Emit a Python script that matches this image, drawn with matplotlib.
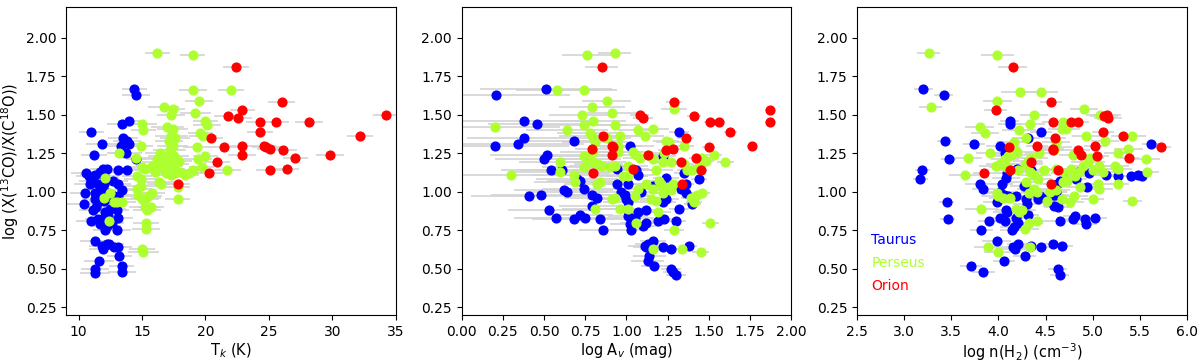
import numpy as np
import matplotlib
matplotlib.use("Agg")
from matplotlib import pyplot as plt

# (x, log ratio, x error), one list per region and panel
# panel 1 : T_k (K)
taurus_tk = [
    (14.4, 1.67, 1.0), (14.5, 1.63, 1.1), (11.0, 1.39, 1.0), (13.4, 1.44, 1.2), (14.0, 1.46, 0.9),
    (13.5, 1.35, 1.2), (13.3, 1.30, 1.0), (13.8, 1.33, 1.1), (14.0, 1.31, 0.8), (11.8, 1.31, 1.2),
    (13.7, 1.25, 1.3), (14.5, 1.21, 0.8), (11.2, 1.24, 1.0), (13.8, 1.14, 1.1), (13.1, 1.14, 1.2),
    (10.6, 1.12, 1.2), (10.8, 1.10, 1.0), (11.3, 1.11, 1.2), (11.9, 1.15, 1.0), (12.2, 1.15, 1.1),
    (11.7, 1.13, 1.2), (11.0, 1.07, 1.0), (10.9, 1.05, 1.3), (11.5, 1.05, 1.1), (12.0, 1.05, 1.0),
    (12.7, 1.07, 1.2), (13.1, 1.05, 1.0), (13.4, 1.01, 1.1), (10.5, 0.99, 1.2), (11.3, 0.99, 1.0),
    (11.7, 1.01, 1.1), (12.2, 0.99, 1.3), (12.6, 0.98, 1.0), (13.1, 0.97, 1.2), (10.4, 0.92, 1.3),
    (11.3, 0.95, 1.0), (11.5, 0.93, 1.1), (12.0, 0.94, 1.2), (12.9, 0.93, 1.0), (11.1, 0.88, 1.1),
    (12.5, 0.89, 1.2), (13.0, 0.88, 1.0), (11.0, 0.81, 1.2), (11.5, 0.82, 1.0), (11.8, 0.82, 1.1),
    (12.1, 0.87, 1.0), (12.3, 0.84, 1.2), (11.7, 0.79, 1.0), (12.2, 0.78, 1.1), (12.6, 0.80, 1.0),
    (13.1, 0.83, 1.2), (12.1, 0.75, 1.0), (13.0, 0.75, 1.1), (11.3, 0.68, 1.2), (11.8, 0.65, 1.0),
    (11.9, 0.63, 1.1), (12.2, 0.66, 1.0), (12.4, 0.66, 1.2), (12.8, 0.64, 1.0), (13.1, 0.64, 1.1),
    (13.2, 0.58, 1.0), (11.6, 0.55, 1.2), (11.3, 0.50, 1.1), (11.3, 0.47, 1.2), (13.4, 0.52, 1.0),
    (13.4, 0.48, 1.1), (12.2, 0.99, 1.0), (11.4, 0.90, 1.1), (12.4, 0.96, 1.0), (12.0, 1.10, 1.2),
]
perseus_tk = [
    (16.2, 1.90, 1.0), (19.0, 1.89, 1.0), (19.0, 1.66, 1.1), (22.0, 1.66, 1.0), (19.5, 1.59, 1.1),
    (16.7, 1.55, 1.2), (17.4, 1.54, 1.0), (17.3, 1.50, 1.1), (19.2, 1.51, 1.2), (20.0, 1.46, 1.0),
    (20.1, 1.43, 1.1), (15.0, 1.44, 1.2), (15.1, 1.40, 1.0), (17.0, 1.42, 1.3), (17.4, 1.41, 1.2),
    (19.6, 1.38, 1.0), (19.8, 1.36, 1.1), (17.3, 1.36, 1.3), (17.6, 1.35, 1.2), (17.1, 1.33, 1.1),
    (14.9, 1.30, 1.0), (17.4, 1.30, 1.2), (19.3, 1.29, 1.1), (17.2, 1.27, 1.3), (16.4, 1.25, 1.2),
    (16.6, 1.23, 1.1), (16.2, 1.21, 1.3), (16.8, 1.22, 1.2), (17.0, 1.20, 1.1), (17.5, 1.23, 1.2),
    (17.9, 1.20, 1.0), (19.4, 1.21, 1.1), (20.0, 1.23, 1.0), (14.5, 1.22, 1.1), (13.2, 1.25, 1.0),
    (15.0, 1.16, 1.2), (15.2, 1.15, 1.1), (15.8, 1.17, 1.3), (16.2, 1.19, 1.2), (16.5, 1.16, 1.1),
    (16.9, 1.17, 1.3), (17.2, 1.15, 1.2), (17.6, 1.18, 1.1), (16.0, 1.13, 1.2), (16.9, 1.12, 1.0),
    (17.3, 1.11, 1.2), (17.6, 1.12, 1.1), (18.0, 1.13, 1.0), (18.4, 1.11, 1.1), (18.7, 1.12, 1.0),
    (19.0, 1.14, 1.1), (19.7, 1.16, 1.0), (21.7, 1.14, 1.1), (14.6, 1.10, 1.2), (14.9, 1.08, 1.3),
    (16.3, 1.06, 1.2), (16.5, 1.05, 1.1), (17.8, 1.03, 1.0), (17.8, 0.95, 1.0), (12.1, 1.09, 1.1),
    (14.6, 1.02, 1.2), (14.9, 1.04, 1.3), (14.7, 0.98, 1.2), (15.0, 0.95, 1.3), (15.3, 0.96, 1.2),
    (15.5, 0.97, 1.1), (15.8, 0.99, 1.0), (15.2, 0.90, 1.2), (15.4, 0.88, 1.1), (15.7, 0.90, 1.0),
    (12.0, 0.96, 1.1), (12.5, 0.99, 1.0), (12.4, 0.81, 1.1), (13.0, 0.93, 1.0), (13.4, 0.93, 1.1),
    (15.3, 0.80, 1.0), (15.3, 0.76, 1.1), (15.0, 0.63, 1.0), (15.1, 0.61, 1.2), (12.8, 0.93, 1.0),
]
orion_tk = [
    (22.4, 1.81, 1.0), (21.8, 1.49, 1.1), (22.9, 1.53, 1.0), (22.6, 1.48, 1.1), (20.4, 1.35, 1.0),
    (21.5, 1.29, 1.2), (22.9, 1.30, 1.0), (22.9, 1.24, 1.1), (20.9, 1.19, 1.0), (20.3, 1.12, 1.1),
    (17.8, 1.05, 1.0), (24.3, 1.45, 1.1), (24.3, 1.39, 1.0), (26.0, 1.58, 1.1), (25.6, 1.45, 1.0),
    (28.2, 1.45, 1.1), (34.2, 1.50, 1.0), (32.2, 1.36, 1.0), (29.8, 1.24, 1.1), (24.6, 1.30, 1.0),
    (24.8, 1.29, 1.1), (25.1, 1.28, 1.0), (26.1, 1.27, 1.1), (27.1, 1.22, 1.0), (25.1, 1.14, 1.1),
    (26.4, 1.15, 1.0),
]

# panel 2 : log A_v (mag)
taurus_av = [
    (0.21, 1.63, 0.45), (0.51, 1.67, 0.40), (0.20, 1.30, 0.45), (0.34, 1.31, 0.40), (0.38, 1.35, 0.35),
    (0.38, 1.46, 0.40), (0.46, 1.44, 0.30), (0.68, 1.33, 0.30), (0.52, 1.24, 0.35), (0.50, 1.21, 0.30),
    (0.54, 1.14, 0.30), (0.61, 1.14, 0.25), (0.41, 0.97, 0.35), (0.48, 0.98, 0.30), (0.53, 0.88, 0.25),
    (0.57, 0.83, 0.25), (0.62, 1.01, 0.30), (0.64, 1.00, 0.25), (0.70, 1.08, 0.25), (0.72, 1.07, 0.20),
    (0.74, 1.02, 0.25), (0.79, 0.98, 0.20), (0.82, 0.96, 0.20), (0.79, 0.91, 0.20), (0.68, 0.82, 0.25),
    (0.72, 0.85, 0.20), (0.75, 0.83, 0.20), (0.84, 0.82, 0.15), (0.86, 0.75, 0.15), (0.94, 1.15, 0.20),
    (0.94, 1.05, 0.15), (0.97, 1.00, 0.15), (0.99, 0.98, 0.15), (1.00, 0.95, 0.15), (1.01, 0.93, 0.15),
    (1.01, 1.05, 0.12), (1.02, 1.30, 0.15), (1.01, 0.84, 0.12), (1.02, 0.79, 0.12), (1.03, 0.75, 0.10),
    (1.05, 0.83, 0.12), (1.06, 1.14, 0.12), (1.07, 1.11, 0.10), (1.07, 0.87, 0.10), (1.09, 1.00, 0.10),
    (1.10, 0.78, 0.10), (1.12, 0.88, 0.10), (1.12, 0.80, 0.10), (1.11, 0.65, 0.10), (1.12, 0.64, 0.08),
    (1.13, 0.66, 0.08), (1.14, 0.58, 0.10), (1.13, 0.55, 0.10), (1.16, 0.68, 0.08), (1.17, 0.52, 0.08),
    (1.16, 1.04, 0.08), (1.19, 0.81, 0.08), (1.22, 1.23, 0.08), (1.22, 0.93, 0.08), (1.23, 0.82, 0.08),
    (1.22, 0.64, 0.08), (1.24, 0.95, 0.08), (1.24, 1.09, 0.08), (1.27, 0.63, 0.06), (1.27, 0.50, 0.06),
    (1.28, 0.48, 0.06), (1.30, 0.46, 0.06), (1.30, 0.81, 0.06), (1.32, 0.89, 0.06), (1.32, 1.39, 0.06),
    (1.33, 1.02, 0.06), (1.35, 1.12, 0.06), (1.36, 0.99, 0.05), (1.36, 1.05, 0.05), (1.38, 0.65, 0.05),
    (1.40, 0.92, 0.05), (1.44, 1.08, 0.05),
]
perseus_av = [
    (0.76, 1.89, 0.15), (0.93, 1.90, 0.10), (0.58, 1.66, 0.25), (0.74, 1.66, 0.20), (0.88, 1.59, 0.15),
    (0.79, 1.55, 0.20), (0.73, 1.50, 0.20), (0.91, 1.51, 0.15), (0.80, 1.46, 0.20), (0.74, 1.43, 0.25),
    (0.93, 1.43, 0.15), (0.20, 1.42, 0.40), (0.64, 1.40, 0.25), (0.78, 1.38, 0.20), (0.79, 1.36, 0.20),
    (0.96, 1.36, 0.15), (1.07, 1.40, 0.12), (1.11, 1.36, 0.12), (1.16, 1.41, 0.10), (0.81, 1.32, 0.20),
    (0.88, 1.35, 0.15), (0.95, 1.30, 0.15), (1.24, 1.33, 0.08), (1.26, 1.32, 0.08), (1.29, 1.54, 0.08),
    (1.35, 1.30, 0.06), (0.80, 1.26, 0.20), (0.95, 1.26, 0.15), (0.74, 1.23, 0.20), (0.77, 1.21, 0.20),
    (0.80, 1.19, 0.20), (0.74, 1.16, 0.25), (0.60, 1.19, 0.25), (0.60, 1.13, 0.30), (0.85, 1.17, 0.20),
    (0.83, 1.18, 0.15), (0.90, 1.16, 0.15), (0.93, 1.17, 0.15), (1.01, 1.17, 0.12), (1.04, 1.26, 0.12),
    (1.06, 1.24, 0.12), (1.08, 1.22, 0.10), (1.13, 1.24, 0.10), (1.16, 1.21, 0.10), (1.18, 1.14, 0.10),
    (1.23, 1.25, 0.08), (1.22, 1.19, 0.08), (1.27, 1.19, 0.08), (1.35, 1.18, 0.06), (1.37, 1.14, 0.06),
    (1.40, 1.14, 0.06), (1.44, 1.17, 0.05), (1.46, 1.22, 0.05), (1.48, 1.20, 0.05), (1.53, 1.24, 0.05),
    (1.60, 1.19, 0.05), (0.30, 1.11, 0.40), (0.68, 1.11, 0.25), (0.69, 1.06, 0.25), (0.84, 1.06, 0.20),
    (0.82, 1.05, 0.20), (0.98, 1.10, 0.15), (1.01, 1.10, 0.12), (1.07, 1.02, 0.12), (1.05, 0.97, 0.12),
    (1.12, 1.05, 0.10), (1.16, 1.02, 0.10), (1.20, 1.07, 0.08), (1.21, 1.05, 0.08), (1.23, 1.01, 0.08),
    (1.25, 1.03, 0.08), (1.27, 1.01, 0.08), (1.22, 0.99, 0.08), (1.18, 0.94, 0.10), (1.15, 0.95, 0.10),
    (0.91, 0.95, 0.15), (0.93, 0.96, 0.15), (0.96, 0.89, 0.15), (1.01, 0.89, 0.12), (0.81, 0.89, 0.20),
    (1.19, 0.87, 0.08), (1.39, 0.96, 0.06), (1.43, 0.98, 0.05), (1.46, 0.99, 0.05), (1.41, 0.93, 0.05),
    (1.06, 0.80, 0.10), (1.51, 0.80, 0.05), (1.29, 0.75, 0.06), (1.16, 0.63, 0.08), (1.34, 0.63, 0.06),
    (1.45, 0.61, 0.05), (1.28, 1.05, 0.08),
]
orion_av = [
    (0.85, 1.81, 0.10), (1.29, 1.58, 0.05), (1.08, 1.50, 0.06), (1.10, 1.48, 0.06), (1.41, 1.49, 0.04),
    (1.87, 1.53, 0.03), (1.87, 1.45, 0.03), (1.51, 1.45, 0.04), (1.56, 1.45, 0.04), (1.63, 1.39, 0.04),
    (0.86, 1.36, 0.10), (1.36, 1.35, 0.05), (1.76, 1.30, 0.03), (0.79, 1.28, 0.10), (0.91, 1.30, 0.08),
    (0.92, 1.29, 0.08), (0.91, 1.24, 0.08), (1.13, 1.24, 0.06), (1.24, 1.27, 0.05), (1.28, 1.28, 0.05),
    (1.50, 1.29, 0.04), (1.42, 1.22, 0.04), (1.33, 1.19, 0.05), (1.04, 1.15, 0.06), (1.45, 1.14, 0.04),
    (0.80, 1.12, 0.10), (1.34, 1.05, 0.05),
]

# panel 3 : log n(H2) (cm^-3)
taurus_n = [
    (3.20, 1.67, 0.10), (3.42, 1.63, 0.10), (3.43, 1.33, 0.08), (3.47, 1.21, 0.08), (3.19, 1.14, 0.08),
    (3.17, 1.08, 0.08), (3.45, 0.93, 0.08), (3.46, 0.82, 0.08), (3.74, 1.31, 0.12), (4.12, 1.46, 0.10),
    (4.12, 1.44, 0.12), (4.45, 1.39, 0.12), (4.31, 1.35, 0.10), (4.02, 1.30, 0.15), (4.07, 1.25, 0.12),
    (4.20, 1.15, 0.15), (4.09, 1.12, 0.12), (4.08, 1.09, 0.15), (4.04, 1.05, 0.12), (3.80, 1.05, 0.15),
    (3.84, 1.02, 0.12), (4.02, 1.00, 0.15), (4.06, 0.98, 0.12), (4.10, 0.97, 0.15), (4.19, 0.97, 0.12),
    (3.99, 0.93, 0.15), (4.08, 0.88, 0.12), (4.09, 0.87, 0.15), (4.02, 0.83, 0.12), (4.07, 0.81, 0.15),
    (3.90, 0.81, 0.12), (4.19, 0.83, 0.15), (4.21, 0.80, 0.12), (4.17, 0.77, 0.15), (4.14, 0.75, 0.12),
    (3.82, 0.75, 0.12), (4.27, 1.04, 0.15), (4.29, 0.95, 0.12), (4.30, 0.92, 0.15), (4.31, 0.85, 0.12),
    (4.35, 1.14, 0.15), (4.36, 1.00, 0.12), (4.42, 0.95, 0.15), (4.44, 0.97, 0.12), (4.51, 0.95, 0.15),
    (4.58, 0.98, 0.12), (4.60, 0.98, 0.15), (4.61, 1.00, 0.12), (4.62, 1.05, 0.15), (4.59, 0.91, 0.12),
    (4.63, 0.90, 0.15), (4.65, 1.07, 0.12), (4.65, 0.81, 0.12), (3.98, 0.68, 0.15), (4.15, 0.64, 0.12),
    (4.18, 0.63, 0.15), (4.21, 0.66, 0.12), (4.28, 0.58, 0.12), (4.06, 0.55, 0.12), (4.35, 0.65, 0.15),
    (4.45, 0.64, 0.12), (4.58, 0.66, 0.15), (4.67, 0.65, 0.12), (3.71, 0.52, 0.12), (3.84, 0.48, 0.12),
    (4.63, 0.50, 0.10), (4.65, 0.46, 0.10), (4.79, 0.82, 0.12), (4.81, 0.84, 0.12), (4.82, 1.08, 0.12),
    (4.92, 0.82, 0.12), (4.93, 0.79, 0.12), (4.94, 1.03, 0.12), (5.03, 0.83, 0.12), (5.14, 1.11, 0.12),
    (5.27, 1.10, 0.10), (5.41, 1.10, 0.10), (5.48, 1.11, 0.10), (5.52, 1.10, 0.10), (5.62, 1.31, 0.10),
    (4.96, 1.12, 0.12), (4.85, 1.13, 0.12),
]
perseus_n = [
    (3.26, 1.90, 0.12), (3.99, 1.89, 0.18), (4.23, 1.65, 0.20), (4.45, 1.65, 0.18), (3.99, 1.59, 0.15),
    (3.28, 1.55, 0.12), (4.91, 1.54, 0.15), (4.38, 1.50, 0.15), (5.08, 1.50, 0.15), (4.22, 1.40, 0.18),
    (4.34, 1.44, 0.15), (3.80, 1.42, 0.15), (3.86, 1.38, 0.15), (4.69, 1.45, 0.15), (4.70, 1.43, 0.15),
    (4.68, 1.41, 0.15), (4.72, 1.41, 0.15), (4.93, 1.36, 0.15), (5.42, 1.36, 0.15), (5.13, 1.33, 0.15),
    (4.29, 1.35, 0.15), (4.17, 1.32, 0.18), (3.68, 1.22, 0.15), (3.91, 1.25, 0.15), (4.20, 1.26, 0.18),
    (4.10, 1.23, 0.15), (4.13, 1.24, 0.18), (4.31, 1.20, 0.15), (4.35, 1.22, 0.18), (4.43, 1.25, 0.15),
    (4.60, 1.29, 0.18), (4.61, 1.32, 0.15), (4.59, 1.27, 0.15), (4.79, 1.24, 0.15), (5.27, 1.25, 0.15),
    (5.38, 1.28, 0.15), (5.57, 1.21, 0.15), (3.97, 1.17, 0.18), (4.02, 1.18, 0.15), (4.08, 1.16, 0.18),
    (4.21, 1.14, 0.15), (4.29, 1.18, 0.18), (4.34, 1.13, 0.15), (4.38, 1.11, 0.18), (4.48, 1.14, 0.15),
    (4.61, 1.15, 0.18), (4.71, 1.12, 0.15), (4.77, 1.15, 0.18), (4.86, 1.13, 0.15), (4.90, 1.17, 0.15),
    (4.95, 1.19, 0.18), (4.97, 1.22, 0.15), (5.00, 1.14, 0.15), (5.07, 1.17, 0.15), (5.11, 1.13, 0.15),
    (5.24, 1.17, 0.15), (5.27, 1.15, 0.15), (5.58, 1.13, 0.12), (3.65, 1.11, 0.18), (3.98, 0.99, 0.15),
    (4.00, 0.97, 0.18), (4.05, 0.96, 0.15), (4.12, 0.96, 0.15), (4.29, 1.06, 0.18), (4.32, 0.99, 0.15),
    (4.38, 1.02, 0.18), (4.41, 1.00, 0.15), (4.42, 1.08, 0.15), (4.52, 0.94, 0.15), (4.55, 1.00, 0.18),
    (4.61, 1.01, 0.15), (4.68, 0.95, 0.15), (4.76, 0.93, 0.15), (4.80, 0.97, 0.15), (4.69, 1.06, 0.15),
    (4.73, 1.07, 0.15), (4.81, 1.10, 0.15), (4.87, 1.03, 0.15), (5.00, 0.95, 0.12), (5.06, 1.05, 0.15),
    (5.07, 1.02, 0.15), (5.27, 1.05, 0.12), (5.42, 0.94, 0.10), (3.82, 0.89, 0.18), (4.19, 0.89, 0.15),
    (4.22, 0.87, 0.15), (4.25, 0.88, 0.15), (4.41, 0.81, 0.12), (4.32, 0.80, 0.15), (4.28, 0.76, 0.15),
    (3.89, 0.64, 0.15), (4.00, 0.61, 0.15), (4.33, 0.64, 0.15), (4.07, 1.21, 0.15),
]
orion_n = [
    (4.15, 1.81, 0.15), (4.56, 1.58, 0.12), (3.97, 1.53, 0.12), (5.12, 1.49, 0.15), (5.15, 1.50, 0.15),
    (5.16, 1.48, 0.15), (4.58, 1.45, 0.12), (4.77, 1.45, 0.12), (4.84, 1.45, 0.12), (5.11, 1.39, 0.12),
    (4.60, 1.35, 0.12), (5.32, 1.36, 0.12), (4.11, 1.29, 0.12), (4.41, 1.30, 0.12), (4.58, 1.28, 0.12),
    (4.58, 1.27, 0.12), (5.03, 1.30, 0.12), (4.85, 1.27, 0.12), (4.88, 1.24, 0.12), (5.05, 1.23, 0.12),
    (5.73, 1.29, 0.10), (5.39, 1.22, 0.10), (4.35, 1.19, 0.12), (4.12, 1.14, 0.12), (4.63, 1.14, 0.12),
    (3.85, 1.12, 0.12), (4.56, 1.05, 0.12),
]

regions = ["Taurus", "Perseus", "Orion"]
colors = ["blue", "greenyellow", "red"]

panels = [
    ([taurus_tk, perseus_tk, orion_tk], (9, 35), [10, 15, 20, 25, 30, 35], r"T$_k$ (K)"),
    ([taurus_av, perseus_av, orion_av], (0, 2), np.arange(0, 2.01, 0.25), r"log A$_v$ (mag)"),
    ([taurus_n, perseus_n, orion_n], (2.5, 6), np.arange(2.5, 6.01, 0.5), r"log n(H$_2$) (cm$^{-3}$)"),
]

fig, axes = plt.subplots(1, 3, figsize=(12, 3.62), dpi=100)
fig.subplots_adjust(left=0.055, right=0.989, bottom=0.13, top=0.981, wspace=0.2)

for ax, (sets, xlim, xticks, xlabel) in zip(axes, panels):
    # grey error bars first, points on top
    for pts in sets:
        x, y, xe = zip(*pts)
        ax.errorbar(x, y, xerr=xe, fmt='none', ecolor='lightgray', elinewidth=1.2, zorder=1)
    for pts, c in zip(sets, colors):
        x, y, xe = zip(*pts)
        ax.plot(x, y, 'o', color=c, ms=6.3, zorder=2)
    ax.set_xlim(xlim)
    ax.set_ylim(0.2, 2.2)
    ax.set_xticks(xticks)
    ax.set_yticks(np.arange(0.25, 2.01, 0.25))
    ax.set_xlabel(xlabel, fontsize=10.5, labelpad=2)

axes[0].set_ylabel(r"log (X($^{13}$CO)/X(C$^{18}$O))", fontsize=10.5, labelpad=3)

for i, (name, c) in enumerate(zip(regions, colors)):
    axes[2].text(2.65, 0.685 - 0.15 * i, name, color=c, fontsize=10, va='center')

fig.savefig("out.png")
